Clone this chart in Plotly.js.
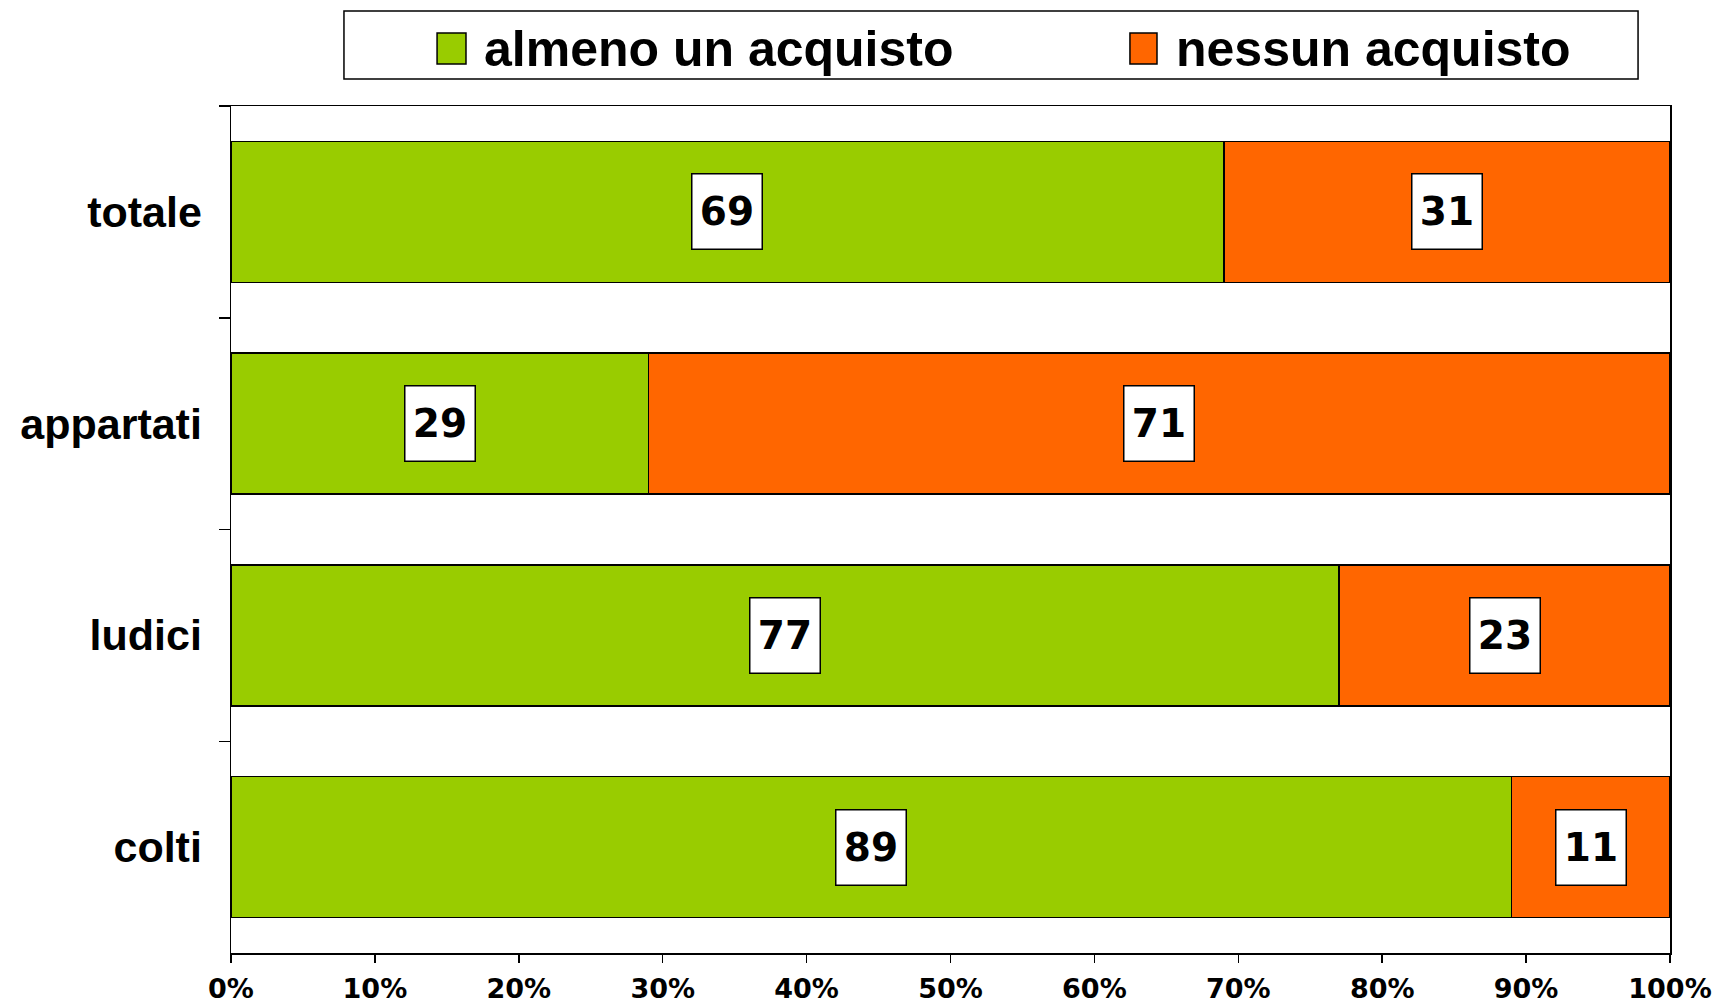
<!DOCTYPE html>
<html>
<head>
<meta charset="utf-8">
<script src="https://cdn.plot.ly/plotly-3.0.1.min.js"></script>
<style>
  html, body { margin: 0; padding: 0; background: #ffffff; }
  #chart { width: 1725px; height: 1004px; }
</style>
</head>
<body>
<div id="chart"></div>
<script>
// ---- data ----
const categories = ['totale', 'appartati', 'ludici', 'colti'];
const seriesNames = ['almeno un acquisto', 'nessun acquisto'];
const almeno = [69, 29, 77, 89];
const nessuno = [31, 71, 23, 11];
const xTickValues = [0, 10, 20, 30, 40, 50, 60, 70, 80, 90, 100];
const xTickLabels = ['0%', '10%', '20%', '30%', '40%', '50%', '60%', '70%', '80%', '90%', '100%'];

// ---- style ----
const colors = ['#99CC00', '#FF6600'];
const barLine = { color: '#000000', width: 1.5 };

const traces = [
  { type: 'bar', orientation: 'h', name: seriesNames[0], y: categories, x: almeno,
    marker: { color: colors[0], line: barLine }, showlegend: false, hoverinfo: 'x+y' },
  { type: 'bar', orientation: 'h', name: seriesNames[1], y: categories, x: nessuno,
    marker: { color: colors[1], line: barLine }, showlegend: false, hoverinfo: 'x+y' }
];

// value labels, boxed, centred in each segment
const annotations = [];
const labelFont = { family: 'DejaVu Sans', size: 39, color: '#000000', weight: 'bold' };
categories.forEach((c, i) => {
  annotations.push({ x: almeno[i] / 2, y: c, xref: 'x', yref: 'y', text: String(almeno[i]),
    showarrow: false, font: labelFont, bgcolor: '#ffffff', bordercolor: '#000000',
    borderwidth: 1.5, borderpad: 4, width: 61, height: 66 });
  annotations.push({ x: almeno[i] + nessuno[i] / 2, y: c, xref: 'x', yref: 'y', text: String(nessuno[i]),
    showarrow: false, font: labelFont, bgcolor: '#ffffff', bordercolor: '#000000',
    borderwidth: 1.5, borderpad: 4, width: 61, height: 66 });
});

// legend drawn as boxed row above the plot
const legendFont = { family: 'Liberation Sans', size: 50, color: '#000000', weight: 'bold' };
const legendTextX = [0.1745, 0.655];
const legendSwatchX = [[0.1432, 0.1633], [0.6247, 0.6435]];
const shapes = [
  { type: 'rect', xref: 'paper', yref: 'paper', x0: 0.0785, x1: 0.9778, y0: 1.0319, y1: 1.1122,
    line: { color: '#000000', width: 1.5 }, fillcolor: '#ffffff', layer: 'above' }
];
seriesNames.forEach((n, i) => {
  shapes.push({ type: 'rect', xref: 'paper', yref: 'paper', x0: legendSwatchX[i][0], x1: legendSwatchX[i][1],
    y0: 1.0496, y1: 1.0862, line: { color: '#000000', width: 1.5 }, fillcolor: colors[i], layer: 'above' });
  annotations.push({ xref: 'paper', yref: 'paper', x: legendTextX[i], y: 1.0675, xanchor: 'left', yanchor: 'middle',
    text: n, showarrow: false, font: legendFont });
});

const layout = {
  width: 1725, height: 1004,
  margin: { l: 231, r: 55, t: 106, b: 51 },
  paper_bgcolor: '#ffffff', plot_bgcolor: '#ffffff',
  barmode: 'stack',
  bargap: 0.334,
  showlegend: false,
  xaxis: {
    range: [0, 100], tickvals: xTickValues, ticktext: xTickLabels,
    showgrid: false, zeroline: false,
    showline: true, linecolor: '#000000', linewidth: 1.5, mirror: true,
    ticks: 'outside', ticklen: 8, tickwidth: 1.5, tickcolor: '#000000',
    ticklabelstandoff: 3,
    tickfont: { family: 'DejaVu Sans', size: 27, color: '#000000', weight: 'bold' }
  },
  yaxis: {
    type: 'category', categoryorder: 'array', categoryarray: categories, autorange: 'reversed',
    showgrid: false, zeroline: false,
    showline: true, linecolor: '#000000', linewidth: 1.5, mirror: true,
    ticks: 'outside', tickson: 'boundaries', ticklen: 11, tickwidth: 1.5, tickcolor: '#000000',
    ticklabelstandoff: 19,
    tickfont: { family: 'Liberation Sans', size: 43, color: '#000000', weight: 'bold' }
  },
  annotations: annotations,
  shapes: shapes
};

Plotly.newPlot('chart', traces, layout, { displayModeBar: false, staticPlot: true });
</script>
</body>
</html>
